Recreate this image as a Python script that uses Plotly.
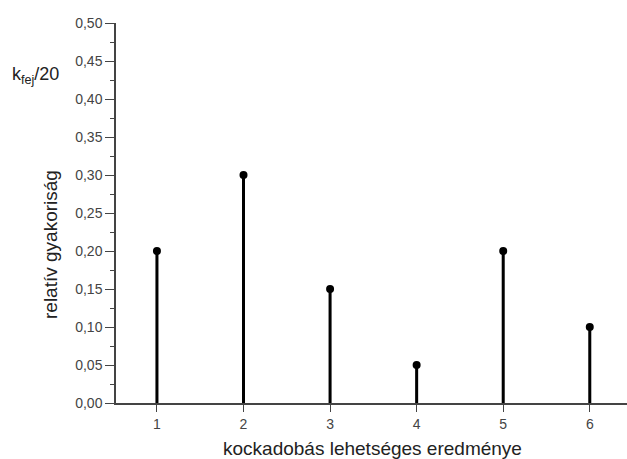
import plotly.graph_objects as go

outcomes = [1, 2, 3, 4, 5, 6]
rel_freq = [0.20, 0.30, 0.15, 0.05, 0.20, 0.10]
y_ticks = [0.00, 0.05, 0.10, 0.15, 0.20, 0.25, 0.30, 0.35, 0.40, 0.45, 0.50]
y_ticktext = [f"{v:.2f}".replace(".", ",") for v in y_ticks]
x_title = "kockadobás lehetséges eredménye"
y_title = "relatív gyakoriság"
corner_label = "k<sub>fej</sub>/20"

font = "Liberation Sans, Arial, sans-serif"

fig = go.Figure()
fig.add_trace(go.Bar(x=outcomes, y=rel_freq, width=0.035,
                     marker=dict(color="black", line=dict(width=0)),
                     hoverinfo="skip"))
fig.add_trace(go.Scatter(x=outcomes, y=rel_freq, mode="markers",
                         marker=dict(color="black", size=8, symbol="circle"),
                         cliponaxis=False))

fig.update_layout(
    width=627, height=459,
    margin=dict(l=116, r=0, t=23, b=56),
    plot_bgcolor="white", paper_bgcolor="white",
    showlegend=False,
    font=dict(family=font, size=14, color="#333"),
    xaxis=dict(range=[0.527, 6.43], tickvals=outcomes, ticktext=[str(v) for v in outcomes],
               showgrid=False, zeroline=False, showline=True, linecolor="#444", linewidth=1.5,
               ticks="outside", ticklen=7, tickwidth=1.2, tickcolor="#444",
               tickfont=dict(size=14, color="#444")),
    yaxis=dict(range=[0, 0.5], tickvals=y_ticks, ticktext=y_ticktext,
               showgrid=False, zeroline=False, showline=True, linecolor="#444", linewidth=1.5,
               ticks="outside", ticklen=9, tickwidth=1.2, tickcolor="#444",
               tickfont=dict(size=14, color="#444"),
               minor=dict(dtick=0.025, ticks="outside", ticklen=4, tickcolor="#444", tickwidth=1.2)),
    annotations=[
        dict(text=x_title, xref="paper", yref="paper",
             x=(372 - 116) / 511, y=-(448 - 403) / 380, showarrow=False,
             xanchor="center", yanchor="middle", font=dict(size=19, color="#222")),
        dict(text=y_title, textangle=-90, xref="paper", yref="paper",
             x=(50 - 116) / 511, y=(403 - 245) / 380, showarrow=False,
             xanchor="center", yanchor="middle", font=dict(size=19, color="#222")),
        dict(text=corner_label, xref="paper", yref="paper",
             x=(10 - 116) / 511, y=(403 - 75) / 380, showarrow=False,
             xanchor="left", yanchor="middle", font=dict(size=18, color="#222")),
    ],
)

fig.write_html("out.html")
